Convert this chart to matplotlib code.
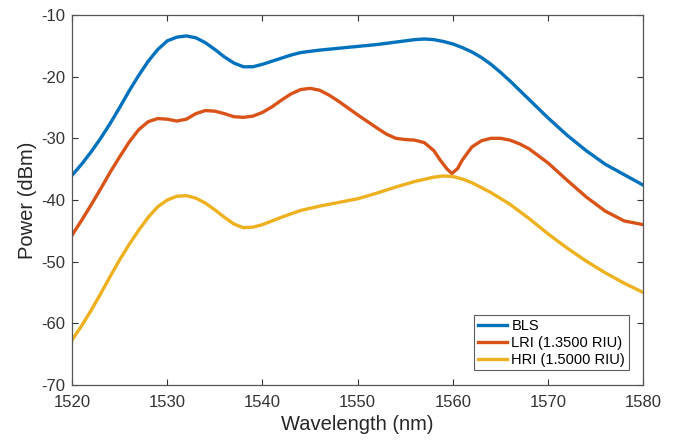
import matplotlib.pyplot as plt

plt.rcParams['font.family'] = ['Liberation Sans', 'DejaVu Sans']
plt.rcParams['axes.unicode_minus'] = False

# BLS
wl_bls = [1520, 1521, 1522, 1523, 1524, 1525, 1526, 1527, 1528, 1529, 1530, 1531, 1532, 1533, 1534,
          1535, 1536, 1537, 1538, 1539, 1540, 1541, 1542, 1543, 1544, 1546, 1548, 1550, 1552, 1554,
          1556, 1557, 1558, 1559, 1560, 1561, 1562, 1563, 1564, 1565, 1566, 1568, 1570, 1572, 1574,
          1576, 1578, 1580]
p_bls = [-36.0, -34.2, -32.2, -30.0, -27.6, -25.0, -22.3, -19.8, -17.5, -15.6, -14.2, -13.6, -13.4, -13.7, -14.5,
         -15.6, -16.8, -17.8, -18.4, -18.4, -18.0, -17.5, -17.0, -16.5, -16.1, -15.7, -15.4, -15.1, -14.8, -14.4,
         -14.0, -13.9, -14.0, -14.3, -14.7, -15.3, -16.0, -16.9, -18.0, -19.3, -20.7, -23.7, -26.7, -29.5, -32.0,
         -34.2, -35.9, -37.6]

# LRI (1.3500 RIU)
wl_lri = [1520, 1521, 1522, 1523, 1524, 1525, 1526, 1527, 1528, 1529, 1530, 1531, 1532, 1533, 1534,
          1535, 1536, 1537, 1538, 1539, 1540, 1541, 1542, 1543, 1544, 1545, 1546, 1547, 1548, 1550,
          1552, 1553, 1554, 1555, 1556, 1557, 1558, 1558.7, 1559.4, 1559.9, 1560.5, 1561, 1562, 1563,
          1564, 1565, 1566, 1567, 1568, 1570, 1572, 1574, 1576, 1578, 1580]
p_lri = [-45.7, -43.3, -40.8, -38.2, -35.5, -33.0, -30.6, -28.6, -27.3, -26.8, -26.9, -27.2, -26.9, -26.0, -25.5,
         -25.6, -26.0, -26.5, -26.6, -26.4, -25.8, -24.9, -23.8, -22.8, -22.1, -21.9, -22.2, -23.0, -24.0, -26.2,
         -28.3, -29.3, -30.0, -30.2, -30.3, -30.7, -32.0, -33.6, -35.0, -35.7, -34.9, -33.5, -31.4, -30.4,
         -30.0, -30.0, -30.3, -30.9, -31.7, -34.0, -36.8, -39.5, -41.8, -43.4, -44.0]

# HRI (1.5000 RIU)
wl_hri = [1520, 1521, 1522, 1523, 1524, 1525, 1526, 1527, 1528, 1529, 1530, 1531, 1532, 1533, 1534,
          1535, 1536, 1537, 1538, 1539, 1540, 1542, 1544, 1546, 1548, 1550, 1552, 1554, 1556, 1558,
          1559, 1560, 1561, 1562, 1564, 1566, 1568, 1570, 1572, 1574, 1576, 1578, 1580]
p_hri = [-62.7, -60.4, -57.9, -55.2, -52.4, -49.7, -47.2, -44.9, -42.8, -41.1, -40.0, -39.4, -39.3, -39.7, -40.5,
         -41.6, -42.8, -43.9, -44.5, -44.4, -44.0, -42.8, -41.7, -41.0, -40.4, -39.8, -38.9, -37.9, -37.0, -36.3,
         -36.1, -36.2, -36.6, -37.2, -38.8, -40.7, -43.0, -45.5, -47.8, -49.9, -51.8, -53.5, -55.0]

labels = ["BLS", "LRI (1.3500 RIU)", "HRI (1.5000 RIU)"]
colors = ["#0072BD", "#D95319", "#EDB120"]

fig = plt.figure(figsize=(6.8, 4.4), dpi=100)
ax = fig.add_axes([0.106, 0.125, 0.840, 0.841])

for x, y, lab, c in zip([wl_bls, wl_lri, wl_hri], [p_bls, p_lri, p_hri], labels, colors):
    ax.plot(x, y, color=c, lw=2.4, label=lab, solid_joinstyle='round')

ax.set_xlim(1520, 1580)
ax.set_ylim(-70, -10)
ax.set_xticks(range(1520, 1581, 10))
ax.set_yticks(range(-70, -9, 10))
ax.tick_params(direction='in', length=4, width=0.8, colors='#333333', labelsize=12,
               top=True, right=True, pad=5)
ax.tick_params(axis='x', pad=7)
for s in ax.spines.values():
    s.set_color('#555555')
    s.set_linewidth(0.9)

ax.set_xlabel("Wavelength (nm)", fontsize=14.5, color='#262626', labelpad=4)
ax.set_ylabel("Power (dBm)", fontsize=14.5, color='#262626', labelpad=3)

leg = ax.legend(loc='lower right', fontsize=10.5, frameon=True, fancybox=False,
                edgecolor='#333333', borderpad=0.25, handlelength=2.0, handletextpad=0.3,
                labelspacing=0.2, borderaxespad=1.0)
leg.get_frame().set_linewidth(0.8)

plt.savefig("out.png", dpi=100)
plt.close()
